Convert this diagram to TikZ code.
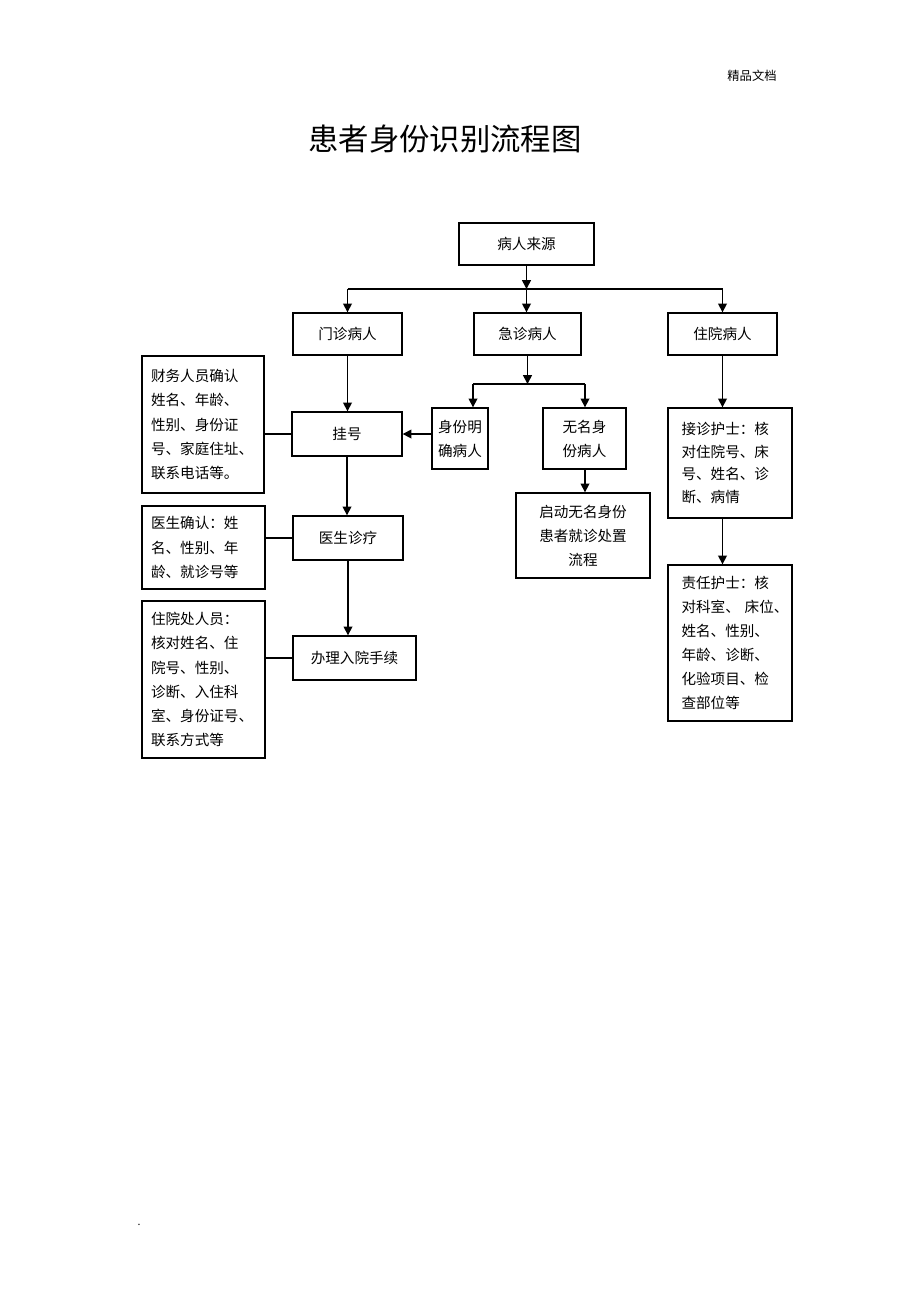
\documentclass[tikz,border=0pt]{standalone}
\usepackage{fontspec}
\setmainfont{Noto Sans CJK SC}
\usetikzlibrary{arrows.meta}

\begin{document}
\begin{tikzpicture}[x=0.02cm,y=-0.02cm,
		box/.style={draw,line width=0.8pt,inner sep=0pt,align=center,font=\fontsize{8.3}{13.7}\selectfont},
		note/.style={box,align=left,inner xsep=0.18cm},
		nurse/.style={box,align=left,inner xsep=0.27cm},
		arr/.style={-{Triangle[length=5pt,width=5pt]},line width=0.9pt},
		link/.style={line width=0.9pt}]
			\useasboundingbox (0,0) rectangle (920,1303);
			\node (header) at (752,76) {\fontsize{7}{8}\selectfont 精品文档};
			\node (title) at (445,139) {\fontsize{17.3}{20}\selectfont 患者身份识别流程图};
			\node[anchor=base] (dot) at (139,1225) {\fontsize{6}{7}\selectfont .};
			% top row
			\node[box,minimum width=2.7cm,minimum height=0.84cm] (src) at (526.5,244) {病人来源};
			\node[box,minimum width=2.18cm,minimum height=0.84cm] (mz) at (347.5,334) {门诊病人};
			\node[box,minimum width=2.14cm,minimum height=0.84cm] (jz) at (527.5,334) {急诊病人};
			\node[box,minimum width=2.18cm,minimum height=0.84cm] (zy) at (722.5,334) {住院病人};
			% outpatient column
			\node[box,minimum width=2.2cm,minimum height=0.88cm] (gh) at (347,434) {挂号};
			\node[box,minimum width=2.2cm,minimum height=0.88cm] (yszl) at (348,538) {医生诊疗};
			\node[box,minimum width=2.46cm,minimum height=0.88cm] (bl) at (354.5,658) {办理入院手续};
			\node[note,text width=2.08cm,minimum height=2.74cm] (cw) at (203,424.5)
				{财务人员确认\\姓名、年龄、\\性别、身份证\\号、家庭住址、\\联系电话等。};
			\node[note,text width=2.1cm,minimum height=1.66cm] (ysqr) at (203.5,547.5)
				{医生确认：姓\\名、性别、年\\龄、就诊号等};
			\node[note,text width=2.1cm,minimum height=3.14cm] (zyc) at (203.5,679.5)
				{住院处人员：\\核对姓名、住\\院号、性别、\\诊断、入住科\\室、身份证号、\\联系方式等};
			% emergency column
			\node[box,minimum width=1.12cm,minimum height=1.22cm] (sfmq) at (460,438.5) {身份明\\确病人};
			\node[box,minimum width=1.66cm,minimum height=1.22cm] (wm) at (584.5,438.5) {无名身\\份病人};
			\node[box,minimum width=2.68cm,minimum height=1.7cm] (qd) at (583,535.5) {启动无名身份\\患者就诊处置\\流程};
			% inpatient column
			\node[nurse,text width=1.94cm,minimum height=2.2cm,font=\fontsize{8.3}{12.8}\selectfont] (jzhs) at (730,463)
				{接诊护士：核\\对住院号、床\\号、姓名、诊\\断、病情};
			\node[nurse,text width=1.94cm,minimum height=3.12cm] (zrhs) at (730,643)
				{责任护士：核\\对科室、\mbox{\ }床位、\\姓名、性别、\\年龄、诊断、\\化验项目、检\\查部位等};
			% connectors
			\coordinate (split) at (src.south |- 0,289);
			\coordinate (eL) at (473,384);
			\coordinate (eR) at (585,384);
			\draw[arr] (src.south) -- (split);
			\draw[link] (mz.north |- split) -- (zy.north |- split);
			\draw[arr] (mz.north |- split) -- (mz.north);
			\draw[arr] (split) -- (split |- jz.north);
			\draw[arr] (zy.north |- split) -- (zy.north);
			\draw[arr] (jz.south) -- (jz.south |- eL);
			\draw[link] (eL) -- (eR);
			\draw[arr] (eL) -- (eL |- sfmq.north);
			\draw[arr] (eR) -- (eR |- wm.north);
			\draw[arr] (wm.south -| eR) -- (eR |- qd.north);
			\draw[arr] (sfmq.west |- gh) -- (gh.east);
			\draw[arr] (mz.south) -- (mz.south |- gh.north);
			\draw[arr] (gh.south) -- (gh.south |- yszl.north);
			\draw[arr] (yszl.south) -- (yszl.south |- bl.north);
			\draw[link] (cw.east |- gh) -- (gh.west);
			\draw[link] (ysqr.east |- yszl) -- (yszl.west);
			\draw[link] (zyc.east |- bl) -- (bl.west);
			\draw[arr] (zy.south) -- (zy.south |- jzhs.north);
			\draw[arr] (zy.south |- jzhs.south) -- (zy.south |- zrhs.north);
		\end{tikzpicture}
\end{document}
